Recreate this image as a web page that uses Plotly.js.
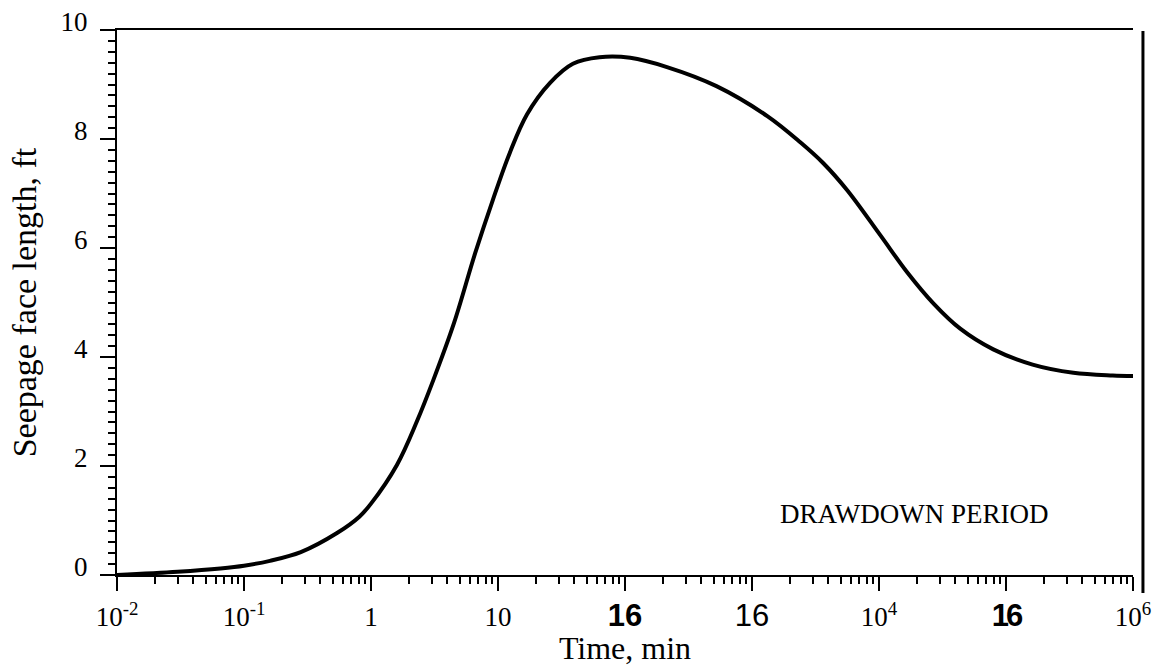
<!DOCTYPE html>
<html>
<head>
<meta charset="utf-8">
<script src="https://cdn.plot.ly/plotly-3.0.1.min.js"></script>
<style>html,body{margin:0;padding:0;background:#fff;}#chart{width:1174px;height:666px;}</style>
</head>
<body>
<div id="chart"></div>
<script>
// Time since start of drawdown, minutes
const timeMin = [0.01, 0.03, 0.065, 0.1, 0.16, 0.28, 0.54, 0.81, 1.0, 1.6, 2.3, 3.1, 4.5,
  6.6, 9.1, 12.4, 16.9, 25.7, 38.9, 63, 110, 214, 525, 1320, 2400, 3630, 5620,
  10200, 16600, 26900, 43600, 79400, 162000, 339000, 692000, 1000000];
// Seepage face length, ft
const seepageFt = [0.0, 0.06, 0.12, 0.17, 0.26, 0.42, 0.77, 1.07, 1.31, 2.02, 2.82, 3.58, 4.62,
  5.90, 6.88, 7.75, 8.45, 9.03, 9.38, 9.50, 9.49, 9.32, 8.97, 8.42, 7.94, 7.56, 7.06,
  6.24, 5.56, 4.98, 4.52, 4.14, 3.86, 3.71, 3.66, 3.65];

const xTickVals = [0.01, 0.1, 1, 10, 100, 1000, 10000, 100000, 1000000];
const xTickText = ['10<sup>-2</sup>', '10<sup>-1</sup>', '1', '10',
  '<span style="font-family:\'Liberation Sans\';font-weight:bold;font-size:31px">16</span>',
  '<span style="font-family:\'Liberation Sans\';font-size:31px">16</span>',
  '10<sup>4</sup>',
  '<span style="font-family:\'Liberation Sans\';font-weight:bold;font-size:31px;letter-spacing:-3px">16</span>',
  '10<sup>6</sup>'];
const yTickVals = [0, 2, 4, 6, 8, 10];
const yTickText = ['0', '2', '4', '6', '8', '10'];
const annotationText = 'DRAWDOWN PERIOD';
const xTitle = 'Time, min';
const yTitle = 'Seepage face length, ft';

// minor tick positions for the log axis (2..9 in every decade)
const xMinor = [];
for (let e = -2; e < 6; e++) {
  for (let d = 2; d <= 9; d++) xMinor.push(d * Math.pow(10, e));
}

const serif = 'Liberation Serif, Times New Roman, serif';

const trace = {
  x: timeMin, y: seepageFt, type: 'scatter', mode: 'lines',
  line: {color: '#000', width: 4, shape: 'spline', smoothing: 1},
  hoverinfo: 'skip'
};

const layout = {
  width: 1174, height: 666,
  margin: {l: 117, r: 41, t: 30, b: 91},
  paper_bgcolor: '#fff', plot_bgcolor: '#fff',
  showlegend: false,
  font: {family: serif, color: '#000'},
  xaxis: {
    type: 'log', range: [-2, 6],
    tickmode: 'array', tickvals: xTickVals, ticktext: xTickText,
    ticks: 'outside', ticklen: 14, tickwidth: 2, tickcolor: '#000',
    minor: {tickmode: 'array', tickvals: xMinor, ticks: 'outside', ticklen: 7, tickwidth: 2, tickcolor: '#000', showgrid: false},
    showline: true, linecolor: '#000', linewidth: 2, mirror: true,
    showgrid: false, zeroline: false,
    tickfont: {family: serif, size: 27, color: '#000'},
    ticklabelstandoff: 3,
    title: {text: xTitle, font: {family: serif, size: 32, color: '#000'}, standoff: 8},
    automargin: false
  },
  yaxis: {
    range: [0, 10],
    tickmode: 'array', tickvals: yTickVals, ticktext: yTickText,
    ticks: 'outside', ticklen: 15, tickwidth: 2, tickcolor: '#000',
    minor: {dtick: 0.2, ticks: 'outside', ticklen: 7, tickwidth: 2, tickcolor: '#000', showgrid: false},
    showline: true, linecolor: '#000', linewidth: 2,
    showgrid: false, zeroline: false,
    tickfont: {family: serif, size: 27, color: '#000'},
    ticklabelstandoff: 7, ticklabelshift: -8,
    title: {text: yTitle, font: {family: serif, size: 34, color: '#000'}, standoff: 14},
    automargin: false
  },
  annotations: [{
    text: annotationText, xref: 'paper', yref: 'paper', x: 0.785, y: 0.112,
    xanchor: 'center', yanchor: 'middle', showarrow: false,
    font: {family: serif, size: 27, color: '#000'}
  }],
  shapes: [{
    type: 'line', xref: 'paper', yref: 'paper',
    x0: 1.0098, x1: 1.0098, y0: 0.998, y1: -0.033,
    line: {color: '#000', width: 3}
  }]
};

Plotly.newPlot('chart', [trace], layout, {displayModeBar: false, staticPlot: true});
</script>
</body>
</html>
